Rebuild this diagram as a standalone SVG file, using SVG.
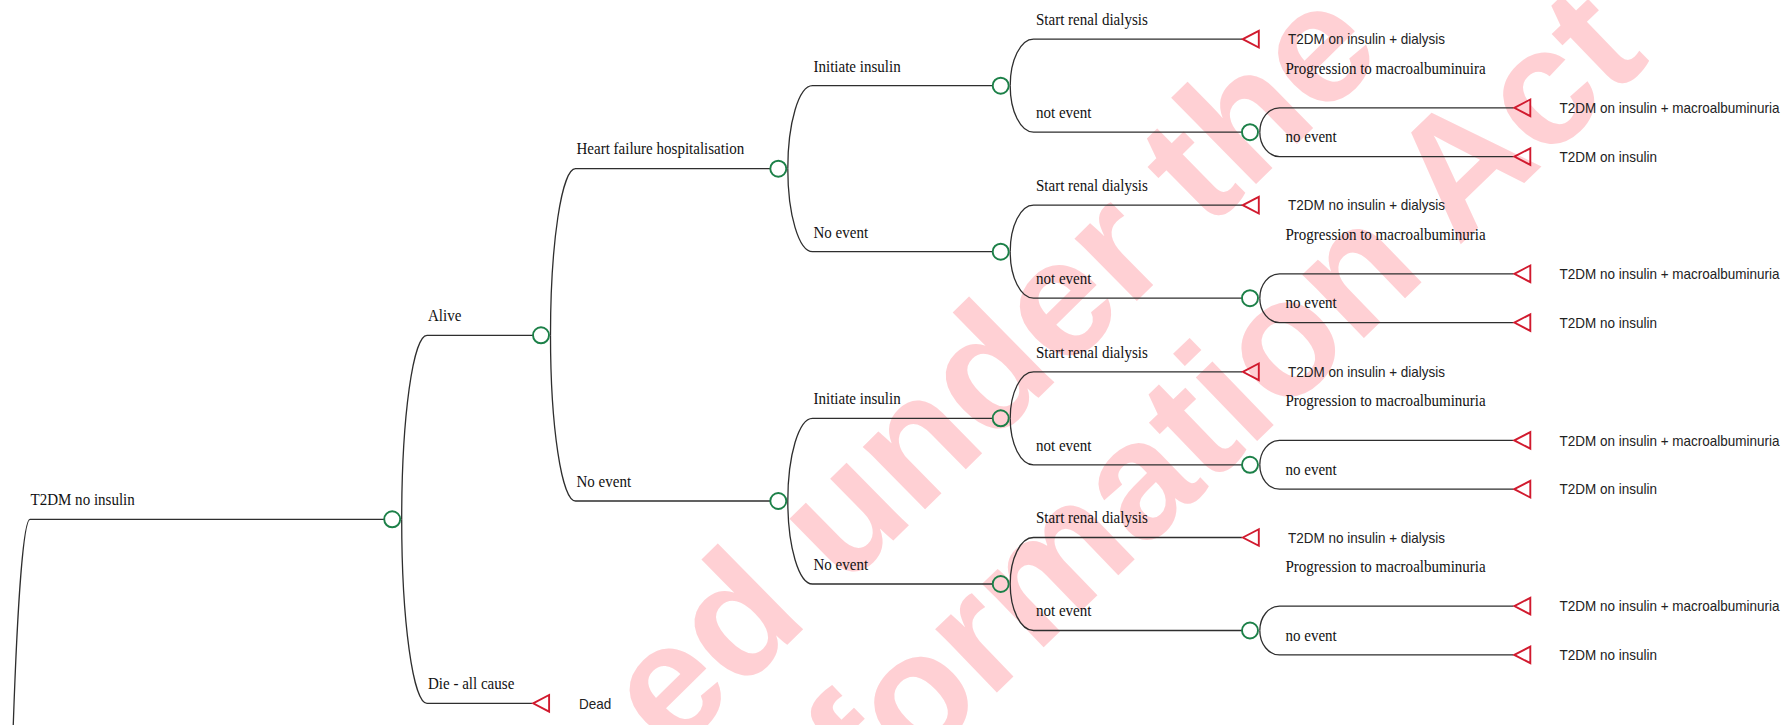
<svg xmlns="http://www.w3.org/2000/svg" xmlns:xlink="http://www.w3.org/1999/xlink" width="1784" height="725" viewBox="0 0 1784 725">
<style>
.wm{font-family:"Liberation Sans",Arial,sans-serif;font-weight:bold;font-size:167px;fill:#ffd0d4}
.ln{fill:none;stroke:#2e2e2e;stroke-width:1.3}
.ch{fill:none;stroke:#1c8048;stroke-width:1.9}
.tm{fill:none;stroke:#d11a2e;stroke-width:1.9;stroke-linejoin:miter}
.lb{font-family:"Liberation Serif","Times New Roman",serif;font-size:16.7px;fill:#111;transform-box:fill-box;transform-origin:0 0;transform:scaleX(0.9)}
.tl{font-family:"Liberation Sans",Arial,sans-serif;font-size:15px;fill:#222;transform-box:fill-box;transform-origin:0 0;transform:scaleX(0.9)}
</style>
<defs>
<path id="tri" d="M0.8 0 L16.8 -8.3 L16.8 8.3 Z"/>
</defs>
<rect width="1784" height="725" fill="#fff"/>
<g id="watermark">
<text class="wm" transform="translate(672 758) rotate(-44.5)">ed under the</text>
<text class="wm" transform="translate(875 810) rotate(-44)">formation Act</text>
</g>
<g id="connectors" class="ln">
<path d="M5 1319.3 A25 800 0 0 1 30 519.3 L384.2 519.3"/>
<path d="M401.7 519.3 A25.3 184 0 0 1 427 335.3 L533 335.3"/>
<path d="M401.7 519.3 A25.3 184 0 0 0 427 703.3 L532.3 703.3"/>
<path d="M550.5 335.3 A25 166.6 0 0 1 575.5 168.7 L770.3 168.7"/>
<path d="M550.5 335.3 A25 165.7 0 0 0 575.5 501 L770.3 501"/>
<path d="M787.8 168.7 A24.7 83 0 0 1 812.5 85.7 L992.7 85.7"/>
<path d="M787.8 168.7 A24.7 83 0 0 0 812.5 251.7 L992.7 251.7"/>
<path d="M787.8 501 A24.7 82.7 0 0 1 812.5 418.3 L992.7 418.3"/>
<path d="M787.8 501 A24.7 83 0 0 0 812.5 584 L992.7 584"/>
<path d="M1010.2 85.7 A23.3 46.5 0 0 1 1033.5 39.2 L1242 39.2"/>
<path d="M1010.2 85.7 A23.3 46.5 0 0 0 1033.5 132.2 L1242 132.2"/>
<path d="M1010.2 251.7 A23.3 46.5 0 0 1 1033.5 205.2 L1242 205.2"/>
<path d="M1010.2 251.7 A23.3 46.5 0 0 0 1033.5 298.2 L1242 298.2"/>
<path d="M1010.2 418.3 A23.3 46.5 0 0 1 1033.5 371.8 L1242 371.8"/>
<path d="M1010.2 418.3 A23.3 46.5 0 0 0 1033.5 464.8 L1242 464.8"/>
<path d="M1010.2 584 A23.3 46.5 0 0 1 1033.5 537.5 L1242 537.5"/>
<path d="M1010.2 584 A23.3 46.5 0 0 0 1033.5 630.5 L1242 630.5"/>
<path d="M1259.8 132.2 A19.7 24.4 0 0 1 1279.5 107.8 L1513.5 107.8"/>
<path d="M1259.8 132.2 A19.7 24.4 0 0 0 1279.5 156.6 L1513.5 156.6"/>
<path d="M1259.8 298.2 A19.7 24.4 0 0 1 1279.5 273.8 L1513.5 273.8"/>
<path d="M1259.8 298.2 A19.7 24.4 0 0 0 1279.5 322.6 L1513.5 322.6"/>
<path d="M1259.8 464.8 A19.7 24.4 0 0 1 1279.5 440.4 L1513.5 440.4"/>
<path d="M1259.8 464.8 A19.7 24.4 0 0 0 1279.5 489.2 L1513.5 489.2"/>
<path d="M1259.8 630.5 A19.7 24.4 0 0 1 1279.5 606.1 L1513.5 606.1"/>
<path d="M1259.8 630.5 A19.7 24.4 0 0 0 1279.5 654.9 L1513.5 654.9"/>
</g>
<g id="root-branch"><text class="lb" x="30.5" y="505">T2DM no insulin</text></g>
<g id="n-l1"><circle class="ch" cx="392.2" cy="519.3" r="8"/></g>
<g id="n-alive"><text class="lb" x="428" y="321">Alive</text><circle class="ch" cx="541" cy="335.3" r="8"/></g>
<g id="n-dead"><text class="lb" x="428" y="689.3">Die - all cause</text><use class="tm" href="#tri" x="532.3" y="703.3"/><text class="tl" x="579" y="708.6">Dead</text></g>
<g id="n-hf"><text class="lb" x="576.5" y="154.5">Heart failure hospitalisation</text><circle class="ch" cx="778.3" cy="168.7" r="8"/></g>
<g id="n-ne"><text class="lb" x="576.5" y="486.8">No event</text><circle class="ch" cx="778.3" cy="501" r="8"/></g>
<g id="n-a"><text class="lb" x="813.5" y="71.7">Initiate insulin</text><circle class="ch" cx="1000.7" cy="85.7" r="8"/></g>
<g id="n-b"><text class="lb" x="813.5" y="237.7">No event</text><circle class="ch" cx="1000.7" cy="251.7" r="8"/></g>
<g id="n-c"><text class="lb" x="813.5" y="404.3">Initiate insulin</text><circle class="ch" cx="1000.7" cy="418.3" r="8"/></g>
<g id="n-d"><text class="lb" x="813.5" y="570">No event</text><circle class="ch" cx="1000.7" cy="584" r="8"/></g>
<g id="t-a-dial"><text class="lb" x="1036" y="25.2">Start renal dialysis</text><use class="tm" href="#tri" x="1242" y="39.2"/><text class="tl" x="1288" y="44.5">T2DM on insulin + dialysis</text></g>
<g id="t-b-dial"><text class="lb" x="1036" y="191.2">Start renal dialysis</text><use class="tm" href="#tri" x="1242" y="205.2"/><text class="tl" x="1288" y="210.5">T2DM no insulin + dialysis</text></g>
<g id="t-c-dial"><text class="lb" x="1036" y="357.8">Start renal dialysis</text><use class="tm" href="#tri" x="1242" y="371.8"/><text class="tl" x="1288" y="377.1">T2DM on insulin + dialysis</text></g>
<g id="t-d-dial"><text class="lb" x="1036" y="523.5">Start renal dialysis</text><use class="tm" href="#tri" x="1242" y="537.5"/><text class="tl" x="1288" y="542.8">T2DM no insulin + dialysis</text></g>
<g id="n-a5"><text class="lb" x="1036" y="118.2">not event</text><circle class="ch" cx="1250" cy="132.2" r="8"/><text class="lb" x="1285.5" y="73.7">Progression to macroalbuminuira</text><text class="lb" x="1285.5" y="142.5">no event</text></g>
<g id="n-b5"><text class="lb" x="1036" y="284.2">not event</text><circle class="ch" cx="1250" cy="298.2" r="8"/><text class="lb" x="1285.5" y="239.7">Progression to macroalbuminuria</text><text class="lb" x="1285.5" y="308.5">no event</text></g>
<g id="n-c5"><text class="lb" x="1036" y="450.8">not event</text><circle class="ch" cx="1250" cy="464.8" r="8"/><text class="lb" x="1285.5" y="406.3">Progression to macroalbuminuria</text><text class="lb" x="1285.5" y="475.1">no event</text></g>
<g id="n-d5"><text class="lb" x="1036" y="616.5">not event</text><circle class="ch" cx="1250" cy="630.5" r="8"/><text class="lb" x="1285.5" y="572">Progression to macroalbuminuria</text><text class="lb" x="1285.5" y="640.8">no event</text></g>
<g id="t-a6"><use class="tm" href="#tri" x="1513.5" y="107.8"/><text class="tl" x="1559.5" y="113.1">T2DM on insulin + macroalbuminuria</text><use class="tm" href="#tri" x="1513.5" y="156.6"/><text class="tl" x="1559.5" y="161.9">T2DM on insulin</text></g>
<g id="t-b6"><use class="tm" href="#tri" x="1513.5" y="273.8"/><text class="tl" x="1559.5" y="279.1">T2DM no insulin + macroalbuminuria</text><use class="tm" href="#tri" x="1513.5" y="322.6"/><text class="tl" x="1559.5" y="327.9">T2DM no insulin</text></g>
<g id="t-c6"><use class="tm" href="#tri" x="1513.5" y="440.4"/><text class="tl" x="1559.5" y="445.7">T2DM on insulin + macroalbuminuria</text><use class="tm" href="#tri" x="1513.5" y="489.2"/><text class="tl" x="1559.5" y="494.5">T2DM on insulin</text></g>
<g id="t-d6"><use class="tm" href="#tri" x="1513.5" y="606.1"/><text class="tl" x="1559.5" y="611.4">T2DM no insulin + macroalbuminuria</text><use class="tm" href="#tri" x="1513.5" y="654.9"/><text class="tl" x="1559.5" y="660.2">T2DM no insulin</text></g>
</svg>
